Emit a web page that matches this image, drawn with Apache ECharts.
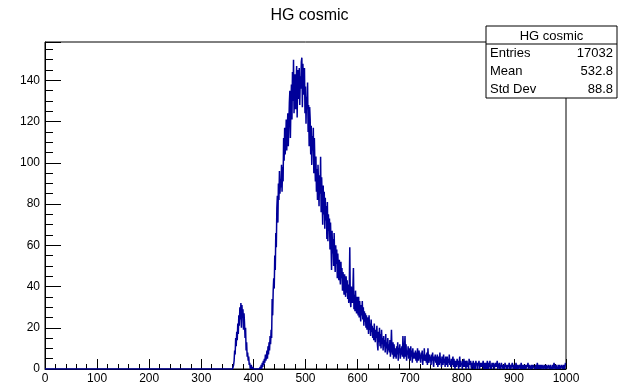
<!DOCTYPE html>
<html>
<head>
<meta charset="utf-8">
<script src="https://cdn.jsdelivr.net/npm/echarts@6/dist/echarts.min.js"></script>
<style>
  html, body { margin: 0; padding: 0; background: #fff; }
  #chart { width: 619px; height: 387px; }
</style>
</head>
<body>
<div id="chart"></div>
<script>
// HG cosmic spectrum: 1000 bins of width 1 over [0, 1000)
const histTitle = 'HG cosmic';
const xMin = 0;
const xMax = 1000;
const binWidth = 1;
const yMax = 158.6;
const xTickLabels = [0, 100, 200, 300, 400, 500, 600, 700, 800, 900, 1000];
const yTickLabels = [0, 20, 40, 60, 80, 100, 120, 140];

// bins below firstFilledBin are empty
const firstFilledBin = 360;
const binCounts = [
  0,0,2,4,9,7,15,11,18,14,
  22,17,26,21,30,24,32,20,31,25,
  29,19,27,22,15,20,9,13,6,8,
  4,6,2,3,0,1,2,0,0,1,
  0,0,0,0,0,0,0,0,0,0,
  0,0,0,1,0,2,0,3,1,4,
  2,5,3,7,4,6,9,5,11,7,
  13,9,16,12,19,15,34,26,38,44,
  39,55,48,66,59,78,84,71,90,82,
  96,85,92,88,99,86,98,91,112,101,
  117,104,110,121,106,115,124,108,119,129,
  135,112,127,138,121,144,130,150,124,139,
  143,126,137,147,122,140,145,131,146,128,
  142,136,149,151,127,148,139,133,146,124,
  137,119,132,126,139,115,128,108,127,121,
  104,118,99,113,106,117,95,112,100,91,
  103,86,97,82,99,90,79,94,85,103,
  76,93,82,70,89,75,86,68,83,72,
  79,63,81,62,75,67,73,58,71,61,
  48,67,56,63,50,66,54,47,60,51,
  58,44,56,49,43,53,45,41,52,44,
  49,38,47,42,36,46,40,35,45,37,
  43,34,41,32,39,59,33,30,40,35,
  32,39,49,29,36,28,38,31,27,35,
  31,26,35,25,33,28,23,31,26,33,
  24,30,21,28,23,27,20,26,19,25,
  23,17,26,19,22,16,24,18,21,15,
  20,14,22,16,13,19,15,21,12,9,
  18,13,20,11,17,10,19,12,15,9,
  16,11,14,8,17,10,13,7,15,9,
  12,8,14,6,11,19,9,7,13,5,
  12,6,10,8,5,11,7,13,4,10,
  9,12,5,10,7,11,6,16,9,5,
  10,16,6,12,4,9,7,11,5,10,
  8,4,11,6,9,3,10,5,8,6,
  5,9,4,8,3,10,6,4,9,5,
  7,3,8,5,9,2,7,4,10,5,
  4,7,3,8,2,10,5,3,7,4,
  6,2,7,4,8,3,1,6,4,7,
  3,6,2,7,1,5,6,2,8,3,
  5,1,6,3,2,7,3,5,1,6,
  4,2,6,1,5,3,7,2,4,1,
  5,2,4,6,1,5,2,0,4,3,
  1,5,2,4,0,3,6,1,4,2,
  3,0,4,1,5,2,1,4,0,3,
  4,1,3,0,5,2,3,4,1,0,
  3,1,4,0,2,3,0,4,2,3,
  0,3,2,4,0,2,3,1,3,1,
  2,4,0,3,1,0,3,2,0,4,
  2,0,3,1,4,0,2,0,3,1,
  2,3,0,0,2,3,1,2,4,0,
  1,2,3,0,2,0,3,1,2,0,
  2,1,0,3,1,2,0,2,0,2,
  1,3,0,2,0,1,2,3,1,0,
  2,0,2,0,3,1,0,2,0,1,
  1,2,0,1,3,0,2,0,1,2,
  0,1,2,0,0,2,1,3,0,0,
  2,1,0,1,2,0,0,2,1,1,
  1,0,2,0,1,3,0,1,2,0,
  1,2,0,0,2,1,0,0,2,1,
  0,1,2,0,0,1,2,1,0,1,
  2,0,1,0,2,0,1,3,1,0,
  1,2,0,1,0,2,0,1,2,0,
  0,1,2,1,0,1,2,0,1,3
];

const statLabels = ['Entries', 'Mean', 'Std Dev'];
const statValues = ['17032', '532.8', '88.8'];

// step outline: one point at each bin's low edge, closed at the upper edge
const stepPoints = [[xMin, 0]];
binCounts.forEach((c, i) => {
  stepPoints.push([xMin + (firstFilledBin + i) * binWidth, c]);
});
stepPoints.push([xMax, binCounts[binCounts.length - 1]]);

const FONT = '"Liberation Sans", Arial, Helvetica, sans-serif';
const chart = echarts.init(document.getElementById('chart'), null, { renderer: 'canvas' });

const grid = { left: 45, right: 53, top: 42, bottom: 18 };

// statistics box, top right corner
const boxX = 486, boxY = 26, boxW = 131, boxH = 72, headH = 18;
const statGraphics = [
  { type: 'rect', shape: { x: boxX, y: boxY, width: boxW, height: boxH },
    style: { fill: '#fff', stroke: '#000', lineWidth: 1 }, z: 100 },
  { type: 'line', shape: { x1: boxX, y1: boxY + headH, x2: boxX + boxW, y2: boxY + headH },
    style: { stroke: '#000', lineWidth: 1 }, z: 101 },
  { type: 'text', x: boxX + boxW / 2, y: boxY + headH / 2 + 1, z: 101,
    style: { text: histTitle, font: '13px ' + FONT, fill: '#000', align: 'center', verticalAlign: 'middle' } }
];
const rowH = (boxH - headH) / statLabels.length;
statLabels.forEach((lab, i) => {
  const cy = boxY + headH + rowH * (i + 0.5);
  statGraphics.push({ type: 'text', x: boxX + 4, y: cy, z: 101,
    style: { text: lab, font: '13px ' + FONT, fill: '#000', align: 'left', verticalAlign: 'middle' } });
  statGraphics.push({ type: 'text', x: boxX + boxW - 4, y: cy, z: 101,
    style: { text: statValues[i], font: '13px ' + FONT, fill: '#000', align: 'right', verticalAlign: 'middle' } });
});

chart.setOption({
  animation: false,
  backgroundColor: '#fff',
  title: {
    text: histTitle, left: 'center', top: 3,
    textStyle: { fontFamily: FONT, fontSize: 16, fontWeight: 'normal', color: '#000' }
  },
  grid: Object.assign({ show: true, borderColor: '#000', borderWidth: 1, backgroundColor: 'transparent' }, grid),
  xAxis: {
    type: 'value', min: xMin, max: xMax, interval: 100,
    axisLine: { show: true, lineStyle: { color: '#000', width: 1 } },
    axisTick: { show: true, inside: true, length: 10, lineStyle: { color: '#000' } },
    minorTick: { show: true, splitNumber: 5, length: 5, lineStyle: { color: '#000' } },
    splitLine: { show: false },
    axisLabel: {
      margin: 4, fontFamily: FONT, fontSize: 12, color: '#000',
      formatter: v => (xTickLabels.includes(v) ? String(v) : '')
    }
  },
  yAxis: {
    type: 'value', min: 0, max: yMax, interval: 20,
    axisLine: { show: true, lineStyle: { color: '#000', width: 1 } },
    axisTick: { show: true, inside: true, length: 16, lineStyle: { color: '#000' } },
    minorTick: { show: true, splitNumber: 4, length: 8, lineStyle: { color: '#000' } },
    splitLine: { show: false },
    axisLabel: {
      margin: 5, fontFamily: FONT, fontSize: 12, color: '#000', showMaxLabel: false,
      formatter: v => (yTickLabels.includes(v) ? String(v) : '')
    }
  },
  series: [{
    type: 'line', step: 'end', data: stepPoints, symbol: 'none',
    lineStyle: { color: '#000099', width: 1.5 }, silent: true, clip: true
  }],
  graphic: statGraphics
});
</script>
</body>
</html>
